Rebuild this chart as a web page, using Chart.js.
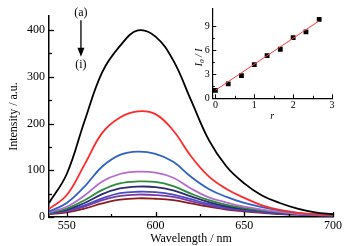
<!DOCTYPE html>
<html>
<head>
<meta charset="utf-8">
<script src="https://cdn.jsdelivr.net/npm/chart.js@4.4.0/dist/chart.umd.min.js"></script>
<style>
html,body{margin:0;padding:0;background:#fff;}
#wrap{position:relative;width:345px;height:246px;}
#mainChart{position:absolute;left:0;top:0;}
#insetChart{position:absolute;left:190px;top:0;}
</style>
</head>
<body>
<div id="wrap">
<canvas id="mainChart" width="345" height="246"></canvas>
<canvas id="insetChart" width="155" height="122"></canvas>
</div>
<script>
// emission spectra, (a) .. (i)
const wavelength = [540,550,560,570,580,590,600,610,620,630,640,650,660,670,680,690,700];
const curveA = [30,92,205,310,366,399,386,335,250,165,108,72,46,30,18,10,6];
const curveB = [17,47,112,180,213,226,220,185,130,87,60,41,25,15,9,6,5];
const curveC = [12,30,65,108,133,140,135,118,86,60,43,30,21,14,9,6,4];
const curveD = [10,22,46,76,92,97,95,84,61,42,31,22,16,11,7,5,4];
const curveE = [9,18,36,58,72,76,75,66,50,36,26,19,14,10,7,5,4];
const curveF = [9,16,30,49,61,65,64,57,44,32,23,17,13,9,6,5,4];
const curveG = [8,14,25,40,51,54,53,48,38,28,20,15,11,8,6,4,3];
const curveH = [7,12,22,36,45,48,47,43,34,25,18,14,10,7,5,4,3];
const curveI = [6,10,18,29,37,40,39,36,29,22,16,12,9,6,5,4,3];
const curveColors = ['#000000','#ff2a2a','#2f62c4','#b46ccc','#2e8b3c','#2b2b6e','#4a4ac8','#7a3aa6','#8b1c1c'];

const xTicks = [550,600,650,700];
const xMinor = [575,625,675];
const yTicks = [0,100,200,300,400];
const yMinor = [50,150,250,350];

// inset: Stern-Volmer plot
const ratioR = [0,0.33,0.67,1,1.33,1.67,2,2.33,2.67];
const ratioI0I = [1.0,1.8,2.84,4.2,5.32,6.12,7.56,8.28,9.84];
const fitR = [0,2.65];
const fitI0I = [1.0,9.6];
const insetXTicks = [0,1,2,3];
const insetXMinor = [0.5,1.5,2.5];
const insetYTicks = [0,3,6,9];
const insetYMinor = [1.5,4.5,7.5];

const serif = '"Liberation Serif", "DejaVu Serif", serif';

const inwardTicks = {
    id:'inwardTicks',
    afterDraw(chart, args, opts){
        const {ctx, chartArea} = chart;
        const xs = chart.scales.x, ys = chart.scales.y;
        ctx.save();
        ctx.strokeStyle = '#000';
        ctx.lineWidth = opts.width;
        const tickX = (vals, len) => vals.forEach(v => {
            const px = Math.round(xs.getPixelForValue(v)) + 0.5;
            ctx.beginPath(); ctx.moveTo(px, chartArea.bottom); ctx.lineTo(px, chartArea.bottom - len); ctx.stroke();
        });
        const tickY = (vals, len) => vals.forEach(v => {
            const py = Math.round(ys.getPixelForValue(v)) + 0.5;
            ctx.beginPath(); ctx.moveTo(chartArea.left, py); ctx.lineTo(chartArea.left + len, py); ctx.stroke();
        });
        tickX(opts.xMajor, opts.major); tickX(opts.xMinor, opts.minor);
        tickY(opts.yMajor, opts.major); tickY(opts.yMinor, opts.minor);
        ctx.restore();
    }
};

const arrowNote = {
    id:'arrowNote',
    afterDraw(chart){
        const {ctx} = chart;
        const xs = chart.scales.x, ys = chart.scales.y;
        const px = xs.getPixelForValue(558);
        ctx.save();
        ctx.fillStyle = '#000';
        ctx.strokeStyle = '#000';
        ctx.font = '12px ' + serif;
        ctx.textAlign = 'center';
        ctx.textBaseline = 'middle';
        ctx.fillText('(a)', px, ys.getPixelForValue(436));
        ctx.fillText('(i)', px, ys.getPixelForValue(325));
        const y0 = ys.getPixelForValue(421), y1 = ys.getPixelForValue(343);
        ctx.lineWidth = 1.3;
        ctx.beginPath(); ctx.moveTo(px, y0); ctx.lineTo(px, y1 - 8); ctx.stroke();
        ctx.beginPath(); ctx.moveTo(px - 3.5, y1 - 9); ctx.lineTo(px + 3.5, y1 - 9); ctx.lineTo(px, y1); ctx.closePath(); ctx.fill();
        ctx.restore();
    }
};

const curves = [curveA,curveB,curveC,curveD,curveE,curveF,curveG,curveH,curveI];
const mainChart = new Chart(document.getElementById('mainChart'),{
    type:'line',
    data:{
        datasets: curves.map((vals, i) => ({
            label:'(' + 'abcdefghi'[i] + ')',
            data: wavelength.map((w, k) => ({x:w, y:vals[k]})),
            borderColor: curveColors[i],
            borderWidth: 1.8,
            pointRadius: 0,
            fill: false,
            tension: 0.4
        }))
    },
    options:{
        responsive:false,
        animation:false,
        devicePixelRatio:1,
        layout:{padding:{top:16,right:12,left:0,bottom:0}},
        plugins:{
            legend:{display:false},
            tooltip:{enabled:false},
            inwardTicks:{xMajor:xTicks,xMinor:xMinor,yMajor:yTicks,yMinor:yMinor,major:5,minor:3,width:1.3}
        },
        scales:{
            x:{
                type:'linear', min:540, max:700,
                afterBuildTicks: s => { s.ticks = xTicks.map(v => ({value:v})); },
                afterFit: s => { s.height = 29; },
                grid:{display:false, drawTicks:false},
                border:{display:true, color:'#000', width:1.5},
                ticks:{color:'#000', padding:2, font:{family:serif, size:12}, maxRotation:0},
                title:{display:true, text:'Wavelength / nm', color:'#000', font:{family:serif, size:12}, padding:{top:3,bottom:0}}
            },
            y:{
                type:'linear', min:0, max:430,
                afterBuildTicks: s => { s.ticks = yTicks.map(v => ({value:v})); },
                afterFit: s => { s.width = 49; },
                grid:{display:false, drawTicks:false},
                border:{display:true, color:'#000', width:1.5},
                ticks:{color:'#000', padding:4, font:{family:serif, size:12}},
                title:{display:true, text:'Intensity / a.u.', color:'#000', font:{family:serif, size:12}, padding:{top:7,bottom:0}}
            }
        }
    },
    plugins:[inwardTicks, arrowNote]
});

const insetTitle = {
    id:'insetTitle',
    afterDraw(chart){
        const {ctx, chartArea} = chart;
        ctx.save();
        ctx.translate(9, (chartArea.top + chartArea.bottom) / 2 + 4);
        ctx.rotate(-Math.PI / 2);
        ctx.fillStyle = '#000';
        ctx.textBaseline = 'middle';
        ctx.textAlign = 'left';
        const big = 'italic 10px ' + serif, small = 'italic 7px ' + serif;
        ctx.font = big;
        const w1 = ctx.measureText('I').width;
        ctx.font = small;
        const w2 = ctx.measureText('0').width;
        ctx.font = big;
        const w3 = ctx.measureText(' / I').width;
        let x = -(w1 + w2 + w3) / 2;
        ctx.fillText('I', x, 0); x += w1;
        ctx.font = small; ctx.fillText('0', x, 3); x += w2;
        ctx.font = big; ctx.fillText(' / I', x, 0);
        ctx.restore();
    }
};

const insetChart = new Chart(document.getElementById('insetChart'),{
    type:'scatter',
    data:{
        datasets:[
            {
                label:'fit',
                type:'line',
                data: fitR.map((r, k) => ({x:r, y:fitI0I[k]})),
                borderColor:'#ff3a3a',
                borderWidth:1,
                pointRadius:0,
                fill:false
            },
            {
                label:'I0/I',
                data: ratioR.map((r, k) => ({x:r, y:ratioI0I[k]})),
                backgroundColor:'#000',
                borderColor:'#000',
                pointStyle:'rect',
                pointRadius:3.4,
                borderWidth:0
            }
        ]
    },
    options:{
        responsive:false,
        animation:false,
        devicePixelRatio:1,
        layout:{padding:{top:5,right:13,left:0,bottom:0}},
        plugins:{
            legend:{display:false},
            tooltip:{enabled:false},
            inwardTicks:{xMajor:insetXTicks,xMinor:insetXMinor,yMajor:insetYTicks,yMinor:insetYMinor,major:4,minor:2.5,width:1}
        },
        scales:{
            x:{
                type:'linear', min:-0.08, max:3,
                afterBuildTicks: s => { s.ticks = insetXTicks.map(v => ({value:v})); },
                afterFit: s => { s.height = 23.7; },
                grid:{display:false, drawTicks:false},
                border:{display:true, color:'#000', width:1.2},
                ticks:{color:'#000', padding:1, font:{family:serif, size:10}, maxRotation:0},
                title:{display:true, text:'r', color:'#000', font:{family:serif, size:10, style:'italic'}, padding:{top:4,bottom:0}}
            },
            y:{
                type:'linear', min:0, max:11.2,
                afterBuildTicks: s => { s.ticks = insetYTicks.map(v => ({value:v})); },
                afterFit: s => { s.width = 22.3; },
                grid:{display:false, drawTicks:false},
                border:{display:true, color:'#000', width:1.2},
                ticks:{color:'#000', padding:2.5, font:{family:serif, size:10}},
                title:{display:false}
            }
        }
    },
    plugins:[inwardTicks, insetTitle]
});
</script>
</body>
</html>
